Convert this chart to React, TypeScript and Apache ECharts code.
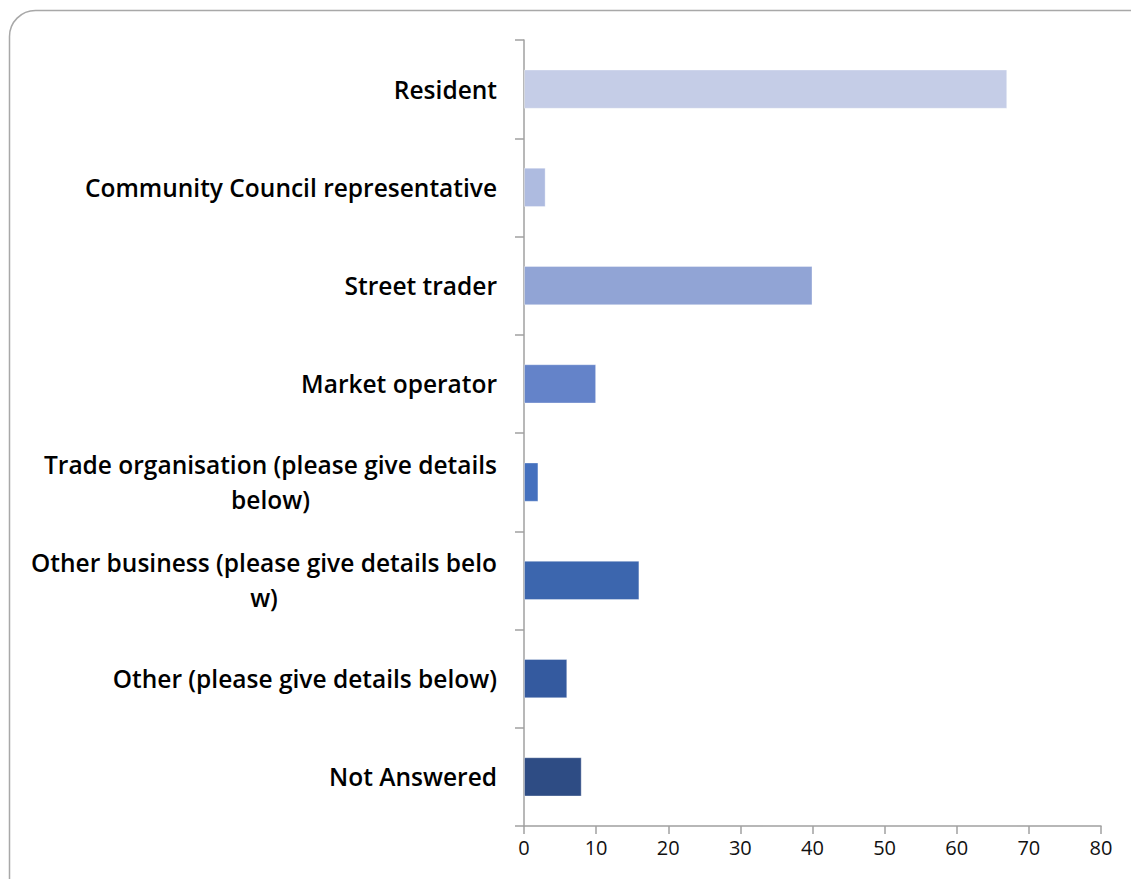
import React, { useEffect, useRef } from "react";
import * as echarts from "echarts";

const categories: string[] = [
  "Resident",
  "Community Council representative",
  "Street trader",
  "Market operator",
  "Trade organisation (please give details\nbelow)",
  "Other business (please give details belo\nw)",
  "Other (please give details below)",
  "Not Answered",
];

const values: number[] = [67, 3, 40, 10, 2, 16, 6, 8];

const barColors: string[] = [
  "#c5cde7",
  "#aebbe0",
  "#91a4d5",
  "#6483c9",
  "#4470be",
  "#3c66ae",
  "#345a9f",
  "#2e4c84",
];

const xTicks = { min: 0, max: 80, interval: 10 };

export default function App() {
  const ref = useRef<HTMLDivElement>(null);
  useEffect(() => {
    if (!ref.current) return;
    const chart = echarts.init(ref.current, undefined, { renderer: "svg" });
    chart.setOption({
      animation: false,
      backgroundColor: "#ffffff",
      graphic: [
        {
          type: "rect",
          shape: { x: 9.5, y: 10.5, width: 1150, height: 920, r: 26 },
          style: { fill: "none", stroke: "#a8a8a8", lineWidth: 1.5 },
          silent: true,
        },
      ],
      grid: { left: 524, right: 30, top: 40, bottom: 53, containLabel: false },
      xAxis: {
        type: "value",
        min: xTicks.min,
        max: xTicks.max,
        interval: xTicks.interval,
        splitLine: { show: false },
        axisLine: { show: true, lineStyle: { color: "#a0a0a0", width: 1.5 } },
        axisTick: { show: true, length: 8, lineStyle: { color: "#a0a0a0", width: 1.5 } },
        axisLabel: {
          color: "#111111",
          fontSize: 20,
          fontWeight: 500,
          fontFamily: "'Open Sans', 'Noto Sans', sans-serif",
          margin: 11,
        },
      },
      yAxis: {
        type: "category",
        data: categories,
        inverse: true,
        axisLine: { show: true, lineStyle: { color: "#a0a0a0", width: 1.5 } },
        axisTick: { show: true, length: 9, alignWithLabel: false, lineStyle: { color: "#a0a0a0", width: 1.5 } },
        axisLabel: {
          margin: 27,
          formatter: (v: string) =>
            v
              .split("\n")
              .map((l) => `{c|${l}}`)
              .join("\n"),
          rich: {
            c: {
              align: "center",
              color: "#000000",
              fontSize: 24.5,
              fontWeight: 600,
              lineHeight: 35,
              fontFamily: "'Open Sans', 'Noto Sans', sans-serif",
            },
          },
        },
      },
      series: [
        {
          type: "bar",
          data: values.map((v, i) => ({
            value: v,
            itemStyle: { color: barColors[i] },
          })),
          barCategoryGap: "60%",
          itemStyle: { borderColor: "rgba(255,255,255,0.35)", borderWidth: 1 },
        },
      ],
    });
    return () => chart.dispose();
  }, []);
  return (
    <div
      ref={ref}
      style={{ position: "fixed", left: 0, top: 0, width: 1131, height: 879 }}
    />
  );
}
